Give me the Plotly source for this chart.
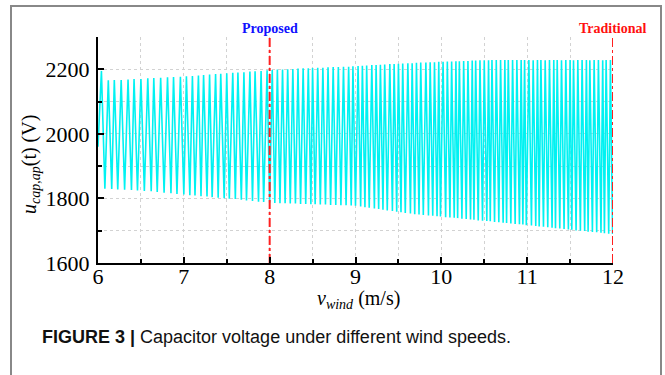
import plotly.graph_objects as go

# ---- data ----
start_x = 6.0
start_u = 1960

peak_x = [6.04, 6.12, 6.19, 6.27, 6.35, 6.42, 6.50, 6.58, 6.65, 6.73, 6.81, 6.88, 6.96,
          7.03, 7.10, 7.17, 7.23, 7.30, 7.37, 7.43, 7.50, 7.57, 7.63, 7.70, 7.77, 7.83, 7.90, 7.97,
          8.03, 8.09, 8.15, 8.21, 8.27, 8.33, 8.39, 8.45, 8.50, 8.56, 8.62, 8.68, 8.74, 8.80, 8.86, 8.92, 8.97,
          9.03, 9.08, 9.13, 9.19, 9.24, 9.29, 9.34, 9.40, 9.45, 9.50, 9.55, 9.61, 9.66, 9.71, 9.76, 9.82, 9.87, 9.92, 9.97,
          10.02, 10.07, 10.12, 10.17, 10.21, 10.26, 10.31, 10.36, 10.40, 10.45, 10.50, 10.55, 10.59, 10.64, 10.69, 10.74, 10.78, 10.83, 10.88, 10.93, 10.97,
          11.02, 11.07, 11.12, 11.16, 11.21, 11.26, 11.31, 11.35, 11.40, 11.45, 11.50, 11.54, 11.59, 11.64, 11.69, 11.73, 11.78, 11.83, 11.88, 11.92, 11.97]

peak_u = [2195, 2166, 2167, 2167, 2168, 2170, 2170, 2172, 2173, 2174, 2175, 2176, 2177,
          2178, 2179, 2181, 2182, 2184, 2185, 2186, 2188, 2189, 2190, 2191, 2193, 2194, 2195, 2197,
          2198, 2199, 2199, 2200, 2201, 2202, 2203, 2203, 2204, 2205, 2205, 2206, 2207, 2207, 2208, 2208, 2209,
          2210, 2211, 2212, 2213, 2213, 2214, 2215, 2216, 2216, 2217, 2218, 2219, 2219, 2220, 2221, 2221, 2222, 2222, 2223,
          2223, 2224, 2224, 2225, 2225, 2226, 2226, 2227, 2227, 2228, 2228, 2228, 2229, 2229, 2229, 2229, 2229, 2229, 2229, 2229, 2229,
          2229, 2228, 2229, 2229, 2228, 2229, 2229, 2229, 2228, 2229, 2229, 2228, 2229, 2229, 2229, 2228, 2229, 2229, 2228, 2229, 2229]

trough_x = [6.08, 6.16, 6.23, 6.31, 6.39, 6.46, 6.54, 6.62, 6.69, 6.77, 6.85, 6.92, 7.00,
            7.07, 7.13, 7.20, 7.27, 7.33, 7.40, 7.47, 7.53, 7.60, 7.67, 7.73, 7.80, 7.87, 7.93, 8.00,
            8.06, 8.12, 8.18, 8.24, 8.30, 8.36, 8.42, 8.48, 8.53, 8.59, 8.65, 8.71, 8.77, 8.83, 8.89, 8.95, 9.00,
            9.06, 9.11, 9.16, 9.22, 9.27, 9.32, 9.37, 9.43, 9.48, 9.53, 9.58, 9.64, 9.69, 9.74, 9.79, 9.85, 9.90, 9.95, 9.99,
            10.05, 10.10, 10.15, 10.19, 10.24, 10.29, 10.34, 10.38, 10.43, 10.48, 10.53, 10.57, 10.62, 10.67, 10.72, 10.76, 10.81, 10.86, 10.91, 10.95, 10.99,
            11.05, 11.10, 11.14, 11.19, 11.24, 11.29, 11.33, 11.38, 11.43, 11.48, 11.52, 11.57, 11.62, 11.67, 11.71, 11.76, 11.81, 11.86, 11.90, 11.95, 11.995]

trough_u = [1830, 1829, 1828, 1827, 1826, 1825, 1823, 1822, 1820, 1818, 1816, 1814, 1812,
            1810, 1809, 1807, 1806, 1804, 1802, 1801, 1799, 1798, 1796, 1794, 1792, 1790, 1789, 1787,
            1786, 1785, 1785, 1784, 1784, 1783, 1783, 1782, 1782, 1781, 1781, 1780, 1780, 1779, 1779, 1778, 1777,
            1775, 1773, 1771, 1769, 1767, 1765, 1763, 1761, 1759, 1757, 1755, 1753, 1751, 1750, 1749, 1747, 1746, 1745, 1744,
            1742, 1741, 1740, 1739, 1737, 1736, 1735, 1734, 1732, 1731, 1730, 1729, 1727, 1726, 1725, 1724, 1722, 1721, 1720, 1719, 1717,
            1716, 1715, 1713, 1712, 1711, 1709, 1708, 1707, 1705, 1704, 1703, 1701, 1700, 1699, 1697, 1696, 1695, 1694, 1692, 1691, 1690]

x_ticks = [6, 7, 8, 9, 10, 11, 12]
y_ticks = [1600, 1800, 2000, 2200]
marker_x = [8, 12]
marker_labels = ["Proposed", "Traditional"]
marker_colors = ["#1010ff", "#ff1010"]

# ---- build the waveform from turning points ----
xs = [start_x]
us = [start_u]
for px, pu, tx, tu in zip(peak_x, peak_u, trough_x, trough_u):
    xs += [px, tx]
    us += [pu, tu]

# plot area in pixels
L, R, T, B = 98, 613, 37, 263
W, H = 665, 375
def px2x(p):
    return (p - L) / (R - L)
def py2y(p):
    return (B - p) / (B - T)

fig = go.Figure()
fig.add_trace(go.Scatter(x=xs, y=us, mode="lines",
                         line=dict(color="#00f2f2", width=1.6),
                         showlegend=False, hoverinfo="skip"))

for mx, lab, col in zip(marker_x, marker_labels, marker_colors):
    fig.add_trace(go.Scatter(x=[mx, mx], y=[1600, 2300], mode="lines",
                             line=dict(color="#ff2020", width=2, dash="dashdot"),
                             showlegend=False, hoverinfo="skip"))
    fig.add_annotation(x=mx, xref="x", y=py2y(29), yref="paper", text="<b>%s</b>" % lab,
                       showarrow=False, xanchor="center", yanchor="middle",
                       font=dict(family="Liberation Serif", size=14, color=col))

grid_col = "#d2d2d2"
tick_font = dict(family="Liberation Serif", size=22, color="black")
fig.update_xaxes(range=[6, 12], tickvals=x_ticks, ticks="inside", ticklen=6, tickwidth=1.5,
                 tickcolor="black", showline=True, linecolor="black", linewidth=2,
                 mirror=False, showgrid=True, gridcolor=grid_col, griddash="dot", gridwidth=1,
                 zeroline=False, tickfont=tick_font, ticklabelstandoff=-7,
                 minor=dict(dtick=0.5, ticks="inside", ticklen=4, tickcolor="black",
                            showgrid=True, gridcolor=grid_col, griddash="dot"))
fig.update_yaxes(range=[1600, 2300], tickvals=y_ticks, ticks="inside", ticklen=6, tickwidth=1.5,
                 tickcolor="black", showline=True, linecolor="black", linewidth=2,
                 mirror=False, showgrid=True, gridcolor=grid_col, griddash="dot", gridwidth=1,
                 zeroline=False, tickfont=tick_font, ticklabelstandoff=2,
                 minor=dict(dtick=100, ticks="inside", ticklen=4, tickcolor="black",
                            showgrid=True, gridcolor=grid_col, griddash="dot"))

# axis titles
fig.add_annotation(x=px2x(358), y=py2y(299), xref="paper", yref="paper",
                   text="<i>v<sub>wind</sub></i> (m/s)", showarrow=False,
                   xanchor="center", yanchor="middle",
                   font=dict(family="Liberation Serif", size=20, color="black"))
fig.add_annotation(x=px2x(30), y=py2y(165), xref="paper", yref="paper",
                   text="<i>u<sub>cap,ap</sub></i>(t) (V)", showarrow=False, textangle=-90,
                   xanchor="center", yanchor="middle",
                   font=dict(family="Liberation Serif", size=20, color="black"))

# caption
fig.add_annotation(x=px2x(40), y=py2y(337), xref="paper", yref="paper",
                   text="<b>FIGURE 3 |</b> Capacitor voltage under different wind speeds.",
                   showarrow=False, xanchor="left", yanchor="middle",
                   font=dict(family="Liberation Sans Narrow, Liberation Sans", size=18, color="#111"))

# outer frame
fig.add_shape(type="rect", xref="paper", yref="paper",
              x0=px2x(11), x1=px2x(661), y0=py2y(390), y1=py2y(6),
              line=dict(color="#888888", width=2), fillcolor="rgba(0,0,0,0)", layer="below")

fig.update_layout(width=W, height=H, margin=dict(l=L, r=W - R, t=T, b=H - B),
                  plot_bgcolor="white", paper_bgcolor="white")

fig.write_html("out.html")
